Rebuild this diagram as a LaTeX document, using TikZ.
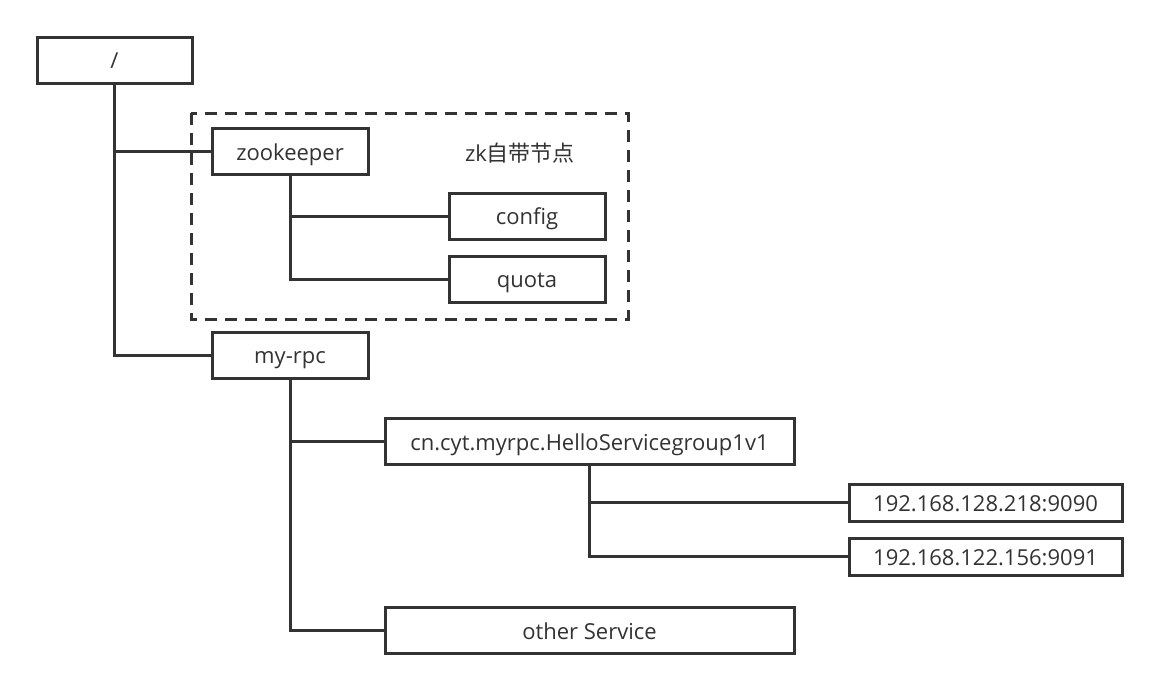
\documentclass[tikz,border=0pt]{standalone}
\usepackage{fontspec}
\setmainfont{Open Sans}
\newfontfamily\cjk{Noto Sans CJK SC}
\begin{document}
\begin{tikzpicture}[x=1pt,y=-1pt,
  every node/.style={font=\fontsize{22}{26}\selectfont, text=ink, text height=19pt, text depth=2pt},
  box/.style={draw=ink, line width=3pt, rectangle, inner sep=0pt, minimum width=156pt, minimum height=46pt},
  wide/.style={box, minimum width=409pt},
  ipbox/.style={box, minimum width=273pt, minimum height=37pt},
  link/.style={draw=ink, line width=3pt},
  group/.style={draw=ink, line width=3pt, dash pattern=on 12pt off 8pt}]
\definecolor{ink}{HTML}{333333}
\fill[white] (0,0) rectangle (1158,691);
\useasboundingbox (0,0) rectangle (1158,691);
\draw[group] (191,113) rectangle (628,319);
\node[box, minimum width=155pt] (root) at (114.5,60) {/};
\node[box] (zk) at (290,151.5) {zookeeper};
\node (zklabel) at (520,153) {zk\cjk 自带节点};
\node[box] (config) at (527,216) {config};
\node[box] (quota) at (527,279) {quota};
\node[box] (myrpc) at (290,355) {my-rpc};
\node[wide] (cn) at (589.5,441.5) {cn.cyt.myrpc.HelloServicegroup1v1};
\node[ipbox] (ip1) at (985.5,502.5) {192.168.128.218:9090};
\node[ipbox] (ip2) at (985.5,556.5) {192.168.122.156:9091};
\node[wide] (other) at (589.5,630.5) {other Service};
\draw[link] (root.south) |- (zk.west);
\draw[link] (root.south) |- (myrpc.west);
\draw[link] (zk.south) |- (config.west);
\draw[link] (zk.south) |- (quota.west);
\draw[link] (myrpc.south) |- (cn.west);
\draw[link] (myrpc.south) |- (other.west);
\draw[link] (cn.south) |- (ip1.west);
\draw[link] (cn.south) |- (ip2.west);
\end{tikzpicture}
\end{document}
